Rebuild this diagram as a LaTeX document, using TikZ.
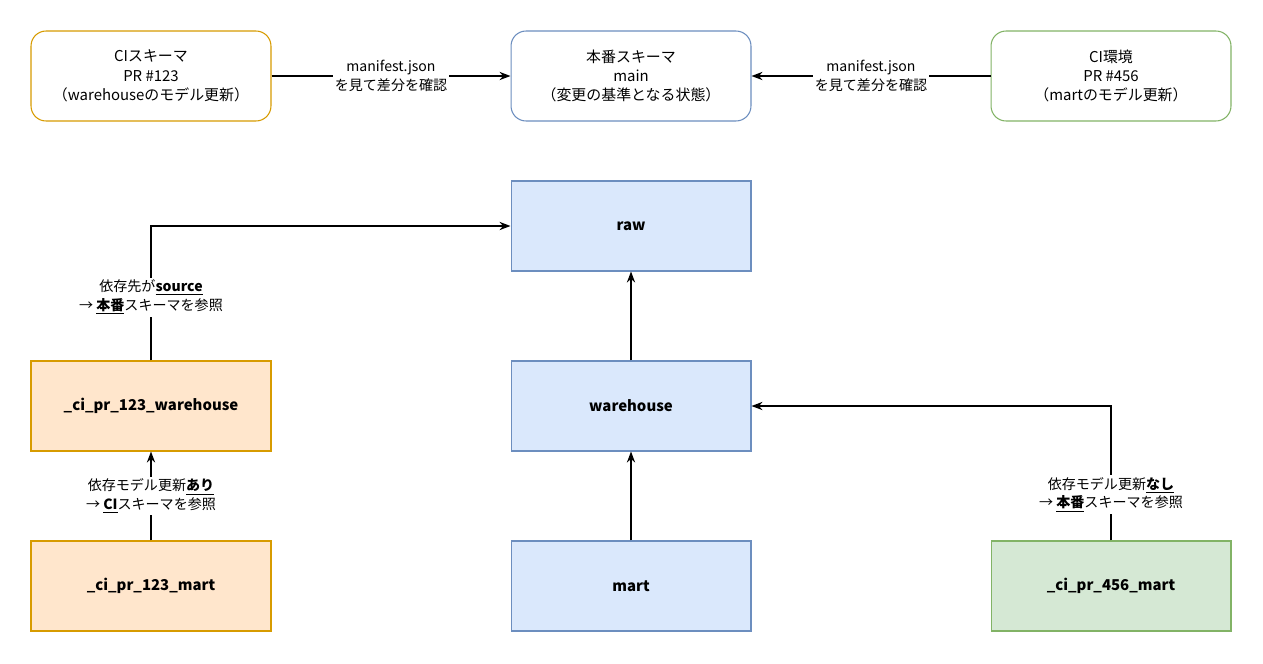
\documentclass[tikz,border=0pt]{standalone}
\usepackage{fontspec}
\setmainfont{Noto Sans CJK JP}
\usetikzlibrary{arrows.meta}
\definecolor{orangeline}{HTML}{D79B00}
\definecolor{orangefill}{HTML}{FFE6CC}
\definecolor{blueline}{HTML}{6C8EBF}
\definecolor{bluefill}{HTML}{DAE8FC}
\definecolor{greenline}{HTML}{82B366}
\definecolor{greenfill}{HTML}{D5E8D4}
\tikzset{
  box/.style={draw, semithick, minimum width=4.8cm, minimum height=1.8cm, align=center, font=\fontsize{8.5}{11}\selectfont},
  schema/.style={box, rounded corners=0.3cm, fill=white},
  model/.style={box, font=\fontsize{8.5}{10}\selectfont\bfseries},
  lbl/.style={fill=white, align=center, font=\fontsize{8}{10.5}\selectfont, inner sep=1pt},
  link/.style={-{Stealth[length=2.2mm]}, thick}
}
\begin{document}
\begin{tikzpicture}[x=0.02cm, y=-0.02cm]
  \useasboundingbox (0,0) rectangle (1263,663);

  \node[schema, draw=orangeline] (ci123) at (151, 76){
    CIスキーマ\\PR \#123\\（warehouseのモデル更新）
  };

  \node[schema, draw=blueline] (prod) at (631, 76){
    本番スキーマ\\main\\（変更の基準となる状態）
  };

  \node[schema, draw=greenline] (ci456) at (1111, 76){
    CI環境\\PR \#456\\（martのモデル更新）
  };

  \node[model, fill=bluefill, draw=blueline] (raw) at (631, 226){raw};
  \node[model, fill=bluefill, draw=blueline] (warehouse) at (631, 406){warehouse};
  \node[model, fill=bluefill, draw=blueline] (mart) at (631, 586){mart};

  \node[model, fill=orangefill, draw=orangeline] (wh123) at (151, 406){\_ci\_pr\_123\_warehouse};
  \node[model, fill=orangefill, draw=orangeline] (mart123) at (151, 586){\_ci\_pr\_123\_mart};

  \node[model, fill=greenfill, draw=greenline] (mart456) at (1111, 586){\_ci\_pr\_456\_mart};

  \draw[link] (ci123) -- node[lbl]{manifest.json\\を見て差分を確認} (prod);
  \draw[link] (ci456) -- node[lbl]{manifest.json\\を見て差分を確認} (prod);

  \draw[link] (mart) -- (warehouse);
  \draw[link] (warehouse) -- (raw);

  \draw[link] (wh123.north) -- node[lbl, pos=0.47]{依存先が\underline{\textbf{source}}\\→ \underline{\textbf{本番}}スキーマを参照} (151, 226) -- (raw.west);
  \draw[link] (mart123) -- node[lbl]{依存モデル更新\underline{\textbf{あり}}\\→ \underline{\textbf{CI}}スキーマを参照} (wh123);
  \draw[link] (mart456.north) -- node[lbl, pos=0.34]{依存モデル更新\underline{\textbf{なし}}\\→ \underline{\textbf{本番}}スキーマを参照} (1111, 406) -- (warehouse.east);
\end{tikzpicture}
\end{document}
